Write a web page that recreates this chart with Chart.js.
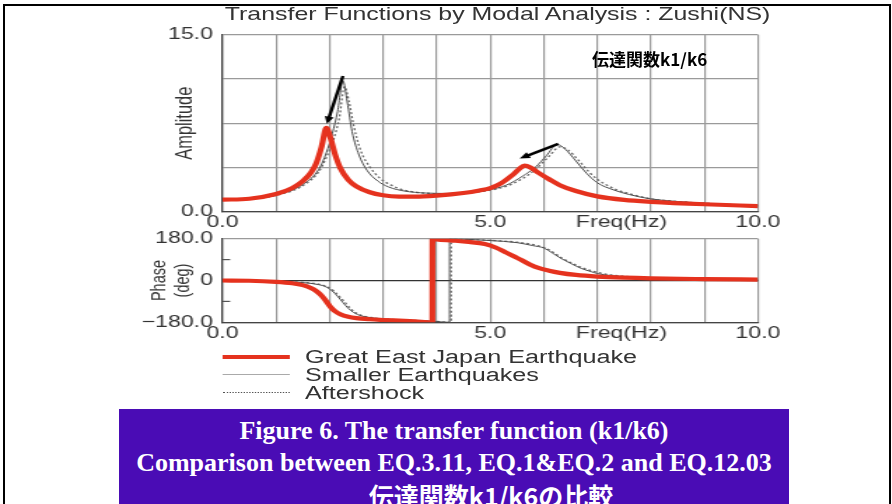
<!DOCTYPE html>
<html>
<head>
<meta charset="utf-8">
<script src="https://cdn.jsdelivr.net/npm/chart.js@4.4.1/dist/chart.umd.min.js"></script>
<style>
  html, body { margin: 0; padding: 0; background: #fff; }
  body { width: 892px; height: 504px; position: relative; overflow: hidden; font-family: "Liberation Sans", Arial, sans-serif; }
  #frame { position: absolute; left: 3px; top: 4px; width: 884px; height: 520px; border: 2px solid #000; border-bottom: none; }
  /* the figure is laid out narrow and stretched sideways */
  #fig { position: absolute; left: 0; top: 0; width: 637px; height: 410px; transform: scaleX(1.4); transform-origin: 0 0; }
  #fig canvas { position: absolute; left: 0; }
  #ampCanvas { top: 18px; }
  #phaseCanvas { top: 222px; }
  .fig-title { position: absolute; left: 355.4px; top: 4px; transform: translateX(-50%); white-space: nowrap; font-size: 17.8px; line-height: 20px; color: #333; }
  .leg-row { position: absolute; left: 0; width: 637px; height: 18px; }
  .leg-line { position: absolute; left: 158.6px; width: 48.5px; }
  .leg-text { position: absolute; left: 217.9px; top: 0; font-size: 18px; line-height: 18px; color: #333; white-space: nowrap; }
  .tag { position: absolute; left: 592px; top: 46px; font-family: "Noto Sans CJK JP", sans-serif; font-weight: bold; font-size: 17px; color: #000; white-space: nowrap; }
  .caption { position: absolute; left: 119px; top: 409px; width: 670px; height: 110px; background: #4a0cb5; color: #fff; text-align: center;
             font-family: "Liberation Serif", "Times New Roman", serif; font-weight: bold; font-size: 26px; line-height: 32px; padding-top: 6px; box-sizing: border-box; }
  .caption .jp { position: relative; left: 37px; font-family: "Noto Sans CJK JP", sans-serif; font-size: 25px; }
</style>
</head>
<body>
<div id="frame"></div>

<div id="fig">
  <div class="fig-title">Transfer Functions by Modal Analysis : Zushi(NS)</div>
  <canvas id="ampCanvas" width="637" height="212"></canvas>
  <canvas id="phaseCanvas" width="637" height="124"></canvas>

  <div class="leg-row" style="top:347.7px">
    <div class="leg-line" style="top:7px;height:4px;background:#e5321e"></div>
    <div class="leg-text">Great East Japan Earthquake</div>
  </div>
  <div class="leg-row" style="top:366px">
    <div class="leg-line" style="top:8px;height:1px;background:#aaa"></div>
    <div class="leg-text">Smaller Earthquakes</div>
  </div>
  <div class="leg-row" style="top:383.5px">
    <div class="leg-line" style="top:8px;height:0;border-top:1.2px dotted #555"></div>
    <div class="leg-text">Aftershock</div>
  </div>
</div>

<div class="tag">伝達関数k1/k6</div>

<div class="caption">
  Figure 6. The transfer function (k1/k6)<br>
  Comparison between EQ.3.11, EQ.1&amp;EQ.2 and EQ.12.03<br>
  <span class="jp">伝達関数k1/k6の比較</span>
</div>

<script>
// --- AMPLITUDE DATA (freq in Hz) ---
const freqGreat = [0, 0.5, 1.0, 1.3, 1.5, 1.65, 1.75, 1.85, 1.94, 2.02, 2.1, 2.2, 2.35, 2.5, 2.75, 3.0, 3.3, 3.6, 4.0, 4.5, 4.8, 5.0, 5.2, 5.4, 5.55, 5.64, 5.75, 5.9, 6.1, 6.3, 6.6, 7.0, 7.5, 8.0, 9.0, 10.0];
const ampGreat  = [1.02, 1.1, 1.5, 2.0, 2.6, 3.3, 4.1, 5.5, 7.1, 6.2, 4.9, 3.7, 2.7, 2.15, 1.65, 1.4, 1.28, 1.27, 1.36, 1.58, 1.8, 2.0, 2.4, 3.05, 3.65, 3.9, 3.75, 3.3, 2.75, 2.25, 1.75, 1.3, 1.0, 0.84, 0.63, 0.48];

const freqSmall = [0, 0.5, 1.0, 1.5, 1.8, 1.94, 2.05, 2.15, 2.25, 2.33, 2.42, 2.55, 2.7, 2.9, 3.1, 3.4, 3.8, 4.2, 4.6, 5.0, 5.3, 5.6, 5.85, 6.05, 6.25, 6.4, 6.6, 6.8, 7.0, 7.3, 7.6, 8.0, 8.5, 9.0, 10.0];
const ampSmall  = [1.0, 1.08, 1.4, 2.3, 3.6, 5.0, 6.6, 8.5, 11.1, 9.3, 6.8, 4.8, 3.5, 2.6, 2.1, 1.75, 1.58, 1.55, 1.65, 1.88, 2.25, 3.0, 3.8, 4.75, 5.7, 5.3, 4.3, 3.25, 2.45, 1.85, 1.45, 1.08, 0.86, 0.72, 0.5];

const freqAfter = [0, 0.5, 1.0, 1.5, 1.8, 1.94, 2.08, 2.18, 2.28, 2.36, 2.45, 2.58, 2.75, 2.95, 3.15, 3.4, 3.8, 4.2, 4.6, 5.0, 5.3, 5.6, 5.85, 6.1, 6.3, 6.45, 6.65, 6.85, 7.0, 7.3, 7.6, 8.0, 8.5, 9.0, 10.0];
const ampAfter  = [1.0, 1.07, 1.38, 2.2, 3.4, 4.6, 6.2, 7.9, 10.6, 9.4, 7.3, 5.2, 3.8, 2.8, 2.25, 1.82, 1.57, 1.52, 1.6, 1.82, 2.15, 2.8, 3.6, 4.7, 5.5, 5.25, 4.35, 3.35, 2.75, 1.98, 1.52, 1.1, 0.87, 0.72, 0.5];

// --- PHASE DATA (deg) ---
const phFreqGreat = [0, 0.5, 1.0, 1.3, 1.5, 1.65, 1.75, 1.85, 1.94, 2.02, 2.1, 2.2, 2.35, 2.5, 2.75, 3.0, 3.3, 3.6, 3.92, 3.921, 4.0, 4.3, 4.6, 4.9, 5.1, 5.3, 5.45, 5.6, 5.75, 5.9, 6.1, 6.3, 6.6, 7.0, 7.5, 8.0, 9.0, 10.0];
const phaseGreat  = [0, -1, -6, -12, -20, -32, -45, -65, -90, -115, -132, -145, -156, -162, -167, -170, -173, -176, -180, 180, 177, 172, 166, 157, 142, 120, 103, 86, 68, 54, 42, 33, 24, 17, 12, 9, 6, 4];

const phFreqSmall = [0, 0.5, 1.0, 1.5, 1.8, 1.94, 2.05, 2.15, 2.25, 2.35, 2.45, 2.6, 2.8, 3.0, 3.5, 4.0, 4.24, 4.241, 4.5, 5.0, 5.5, 5.8, 6.0, 6.15, 6.3, 6.5, 6.7, 6.9, 7.0, 7.5, 8.0, 9.0, 10.0];
const phaseSmall  = [0, -1, -4, -9, -18, -28, -45, -68, -95, -120, -138, -153, -161, -166, -172, -177, -180, 180, 178, 172, 163, 150, 140, 120, 98, 74, 52, 37, 30, 16, 11, 6, 4];

const phFreqAfter = [0, 0.5, 1.0, 1.5, 1.8, 1.94, 2.08, 2.18, 2.28, 2.38, 2.48, 2.62, 2.8, 3.0, 3.5, 4.0, 4.27, 4.271, 4.5, 5.0, 5.5, 5.85, 6.05, 6.2, 6.35, 6.55, 6.75, 6.95, 7.1, 7.5, 8.0, 9.0, 10.0];
const phaseAfter  = [0, -1, -4, -8, -16, -25, -45, -68, -92, -118, -138, -152, -160, -165, -171, -176, -180, 180, 178, 173, 165, 152, 138, 118, 95, 72, 52, 38, 30, 18, 12, 7, 4];

// --- TICKS & LABELS ---
const freqTicks = [0, 1, 2, 3, 4, 5, 6, 7, 7.45, 8, 9, 10];
const freqLabels = { 0: '0.0', 5: '5.0', 7.45: 'Freq(Hz)', 10: '10.0' };
const ampTicks = [0, 3.75, 7.5, 11.25, 15];
const ampLabels = { 0: '0.0', 15: '15.0' };
const phaseTicks = [-180, -90, 0, 90, 180];
const phaseLabels = { '-180': '\u2212180.0', 0: '0', 180: '180.0' };

// arrows pointing at the shifted peaks: [fromFreq, fromAmp, toFreq, toAmp]
const peakArrows = [[2.25, 11.5, 1.95, 7.45], [6.27, 5.75, 5.55, 4.5]];

// --- STYLE ---
const FONT = 'Liberation Sans, Arial, sans-serif';
const GRID = '#9a9a9a';
const AXIS = '#444';
const PLOT_LEFT = 158.9;
const PLOT_RIGHT_PAD = 95.6;

const toPoints = (xs, ys) => xs.map((x, i) => ({ x: x, y: ys[i] }));

const lineSets = (g, s, a) => [
    { label: 'Great East Japan Earthquake', data: g, borderColor: '#e5321e', borderWidth: 4.2 },
    { label: 'Smaller Earthquakes', data: s, borderColor: '#4d4d4d', borderWidth: 1 },
    { label: 'Aftershock', data: a, borderColor: '#6a6a6a', borderWidth: 1.3, borderDash: [2, 2] }
];

const freqAxis = (height) => ({
    type: 'linear', min: 0, max: 10,
    afterBuildTicks: s => { s.ticks = freqTicks.map(v => ({ value: v })); },
    afterFit: s => { s.height = height; },
    grid: { color: c => (c.tick && c.tick.value === 7.45) ? 'rgba(0,0,0,0)' : GRID, lineWidth: 1.2, drawTicks: false },
    border: { color: AXIS, width: 1.3 },
    ticks: { autoSkip: false, maxRotation: 0, padding: 1, color: '#333', font: { family: FONT, size: 16.5 },
             callback: v => freqLabels[v] ?? '' }
});

const baseOptions = {
    responsive: false,
    animation: false,
    events: [],
    elements: { point: { radius: 0 }, line: { cubicInterpolationMode: 'monotone', fill: false } },
    plugins: { legend: { display: false }, tooltip: { enabled: false } }
};

// --- PLUGINS ---
const arrowPlugin = {
    id: 'peakArrows',
    afterDatasetsDraw(chart) {
        const { ctx, scales: { x, y } } = chart;
        ctx.save();
        ctx.strokeStyle = '#000';
        ctx.fillStyle = '#000';
        ctx.lineWidth = 2.4;
        peakArrows.forEach(([f0, a0, f1, a1]) => {
            const x0 = x.getPixelForValue(f0), y0 = y.getPixelForValue(a0);
            const x1 = x.getPixelForValue(f1), y1 = y.getPixelForValue(a1);
            const ang = Math.atan2(y1 - y0, x1 - x0);
            const head = 8;
            ctx.beginPath();
            ctx.moveTo(x0, y0);
            ctx.lineTo(x1 - Math.cos(ang) * head * 0.6, y1 - Math.sin(ang) * head * 0.6);
            ctx.stroke();
            ctx.beginPath();
            ctx.moveTo(x1, y1);
            ctx.lineTo(x1 - head * Math.cos(ang - 0.42), y1 - head * Math.sin(ang - 0.42));
            ctx.lineTo(x1 - head * Math.cos(ang + 0.42), y1 - head * Math.sin(ang + 0.42));
            ctx.closePath();
            ctx.fill();
        });
        ctx.restore();
    }
};

// short marks at +/-90 deg just inside the phase axis
const innerTicks = {
    id: 'innerTicks',
    afterDraw(chart) {
        const { ctx, chartArea, scales: { y } } = chart;
        ctx.save();
        ctx.strokeStyle = '#555';
        ctx.lineWidth = 1.2;
        [-90, 90].forEach(v => {
            const py = y.getPixelForValue(v);
            ctx.beginPath();
            ctx.moveTo(chartArea.left, py);
            ctx.lineTo(chartArea.left + 5.5, py);
            ctx.stroke();
        });
        ctx.restore();
    }
};

// --- AMPLITUDE CHART ---
new Chart(document.getElementById('ampCanvas'), {
    type: 'line',
    data: { datasets: lineSets(toPoints(freqGreat, ampGreat), toPoints(freqSmall, ampSmall), toPoints(freqAfter, ampAfter)) },
    options: {
        ...baseOptions,
        layout: { padding: { top: 15.3, right: PLOT_RIGHT_PAD, left: 0, bottom: 0 } },
        scales: {
            x: freqAxis(18.3),
            y: {
                min: 0, max: 15,
                afterBuildTicks: s => { s.ticks = ampTicks.map(v => ({ value: v })); },
                afterFit: s => { s.width = PLOT_LEFT; },
                grid: { color: GRID, lineWidth: 1.2, drawTicks: false },
                border: { color: AXIS, width: 1.3 },
                ticks: { padding: 6.8, color: '#333', font: { family: FONT, size: 16.5 }, callback: v => ampLabels[v] ?? '' },
                title: { display: true, text: 'Amplitude', color: '#333', font: { family: FONT, size: 16.4 }, padding: { top: 123, bottom: 0 } }
            }
        }
    },
    plugins: [arrowPlugin]
});

// --- PHASE CHART ---
new Chart(document.getElementById('phaseCanvas'), {
    type: 'line',
    data: { datasets: lineSets(toPoints(phFreqGreat, phaseGreat), toPoints(phFreqSmall, phaseSmall), toPoints(phFreqAfter, phaseAfter)) },
    options: {
        ...baseOptions,
        layout: { padding: { top: 11.3, right: PLOT_RIGHT_PAD, left: 0, bottom: 0 } },
        scales: {
            x: freqAxis(23.7),
            y: {
                min: -180, max: 180,
                afterBuildTicks: s => { s.ticks = phaseTicks.map(v => ({ value: v })); },
                afterFit: s => { s.width = PLOT_LEFT; },
                grid: {
                    color: c => c.tick.value === 0 ? '#333' : (Math.abs(c.tick.value) === 90 ? 'rgba(0,0,0,0)' : GRID),
                    lineWidth: 1.2, drawTicks: false
                },
                border: { color: AXIS, width: 1.3 },
                ticks: { padding: 6.8, color: '#333', font: { family: FONT, size: 16.5 }, callback: v => phaseLabels[v] ?? '' },
                title: { display: true, text: ['Phase', '(deg)'], color: '#333', font: { family: FONT, size: 14.5, lineHeight: 1.13 }, padding: { top: 106.1, bottom: 0 } }
            }
        }
    },
    plugins: [innerTicks]
});
</script>
</body>
</html>
